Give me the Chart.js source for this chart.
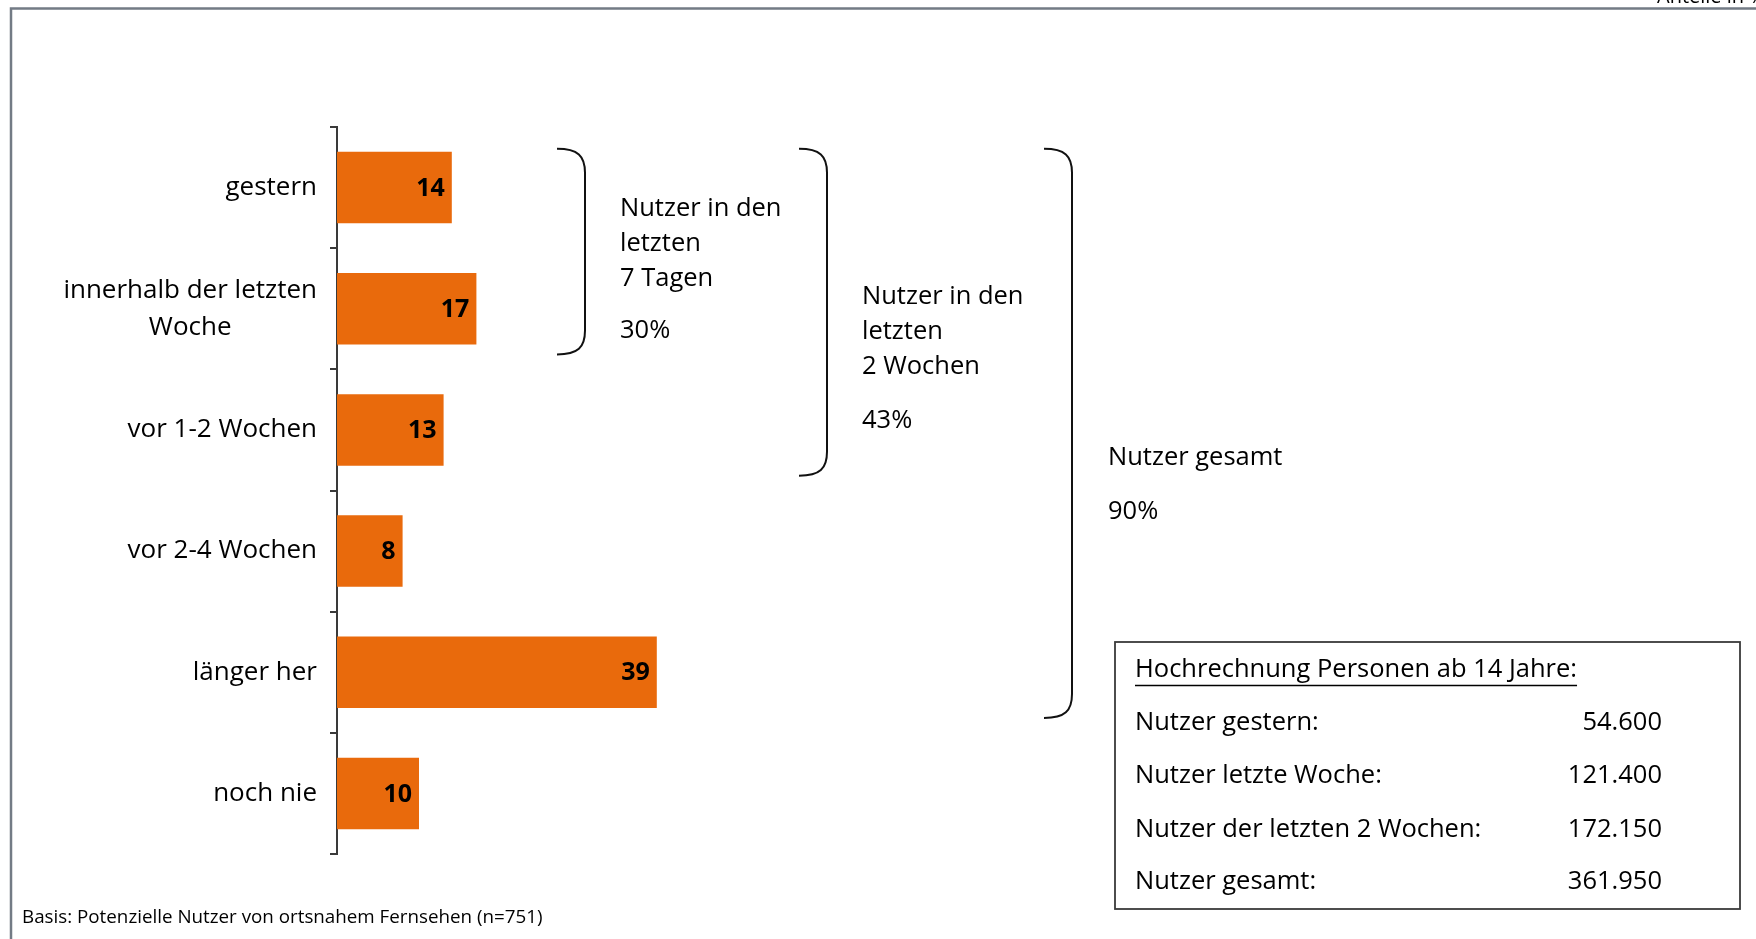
<!DOCTYPE html>
<html>
<head>
<meta charset="utf-8">
<script src="https://cdn.jsdelivr.net/npm/chart.js@4.4.1/dist/chart.umd.min.js"></script>
<style>
  html, body { margin: 0; padding: 0; background: #ffffff; overflow: hidden; }
  #wrap { position: relative; width: 1756px; height: 939px; }
  canvas { display: block; }
</style>
</head>
<body>
<div id="wrap"><canvas id="c" width="1756" height="939"></canvas></div>
<script>
// ---------- data ----------
const categories = ['gestern', ['innerhalb der letzten', 'Woche'], 'vor 1-2 Wochen', 'vor 2-4 Wochen', 'länger her', 'noch nie'];
const values = [14, 17, 13, 8, 39, 10];
const groupTexts = [
  ['Nutzer in den', 'letzten', '7 Tagen'],
  ['Nutzer in den', 'letzten', '2 Wochen'],
  ['Nutzer gesamt']
];
const groupPercents = ['30%', '43%', '90%'];
const groupLastIndex = [1, 2, 4];
const boxTitle = 'Hochrechnung Personen ab 14 Jahre:';
const boxRowLabels = ['Nutzer gestern:', 'Nutzer letzte Woche:', 'Nutzer der letzten 2 Wochen:', 'Nutzer gesamt:'];
const boxRowValues = ['54.600', '121.400', '172.150', '361.950'];
const footnote = 'Basis: Potenzielle Nutzer von ortsnahem Fernsehen (n=751)';
const cornerNote = 'Anteile in %';

const FONT = '"Open Sans", Lato, sans-serif';
const TICK_SIZE = 26;
const TICK_LINE = 37;

const decorPlugin = {
  id: 'decor',
  beforeDraw(chart) {
    const ctx = chart.ctx;
    ctx.save();
    ctx.strokeStyle = '#737b85';
    ctx.lineWidth = 2.5;
    ctx.beginPath();
    ctx.moveTo(11, 939);
    ctx.lineTo(11, 8.5);
    ctx.lineTo(1756, 8.5);
    ctx.stroke();
    ctx.fillStyle = '#000';
    ctx.font = '20px ' + FONT;
    ctx.textAlign = 'left';
    ctx.textBaseline = 'alphabetic';
    ctx.fillText(cornerNote, 1657, 3);
    ctx.restore();
  },
  afterDraw(chart) {
    // category labels: block right-aligned to the axis, lines centred within the block
    const ctx = chart.ctx;
    const ys = chart.scales.y;
    ctx.save();
    ctx.fillStyle = '#000';
    ctx.font = TICK_SIZE + 'px ' + FONT;
    ctx.textBaseline = 'middle';
    ctx.textAlign = 'center';
    const rightEdge = ys.right - 7 - 13;
    categories.forEach((lab, i) => {
      const lines = Array.isArray(lab) ? lab : [lab];
      const bw = Math.max(...lines.map(l => ctx.measureText(l).width));
      const cx = rightEdge - bw / 2;
      const cy = ys.getPixelForTick(i);
      const y0 = cy - (lines.length - 1) * TICK_LINE / 2;
      lines.forEach((l, k) => ctx.fillText(l, cx, y0 + k * TICK_LINE));
    });
    ctx.restore();
  },
  afterDatasetsDraw(chart) {
    const ctx = chart.ctx;
    const meta = chart.getDatasetMeta(0);
    ctx.save();
    // value labels
    ctx.fillStyle = '#000';
    ctx.font = 'bold 25px ' + FONT;
    ctx.textAlign = 'right';
    ctx.textBaseline = 'middle';
    meta.data.forEach((bar, i) => {
      ctx.fillText(String(values[i]), bar.x - 7, bar.y + 1);
    });

    // brackets
    const half = meta.data[0].height / 2;
    const top = meta.data[0].y - half - 3;
    const bx = [557, 799, 1044];
    const w = 28;
    ctx.strokeStyle = '#111';
    ctx.lineWidth = 2;
    groupLastIndex.forEach((li, g) => {
      const bot = meta.data[li].y + meta.data[li].height / 2 + 10;
      const x0 = bx[g], x1 = bx[g] + w;
      const r = 24;
      ctx.beginPath();
      ctx.moveTo(x0, top);
      ctx.bezierCurveTo(x0 + 0.75 * w, top, x1, top + 0.3 * r, x1, top + r);
      ctx.lineTo(x1, bot - r);
      ctx.bezierCurveTo(x1, bot - 0.3 * r, x0 + 0.75 * w, bot, x0, bot);
      ctx.stroke();
    });

    // bracket texts
    ctx.fillStyle = '#000';
    ctx.font = '25.5px ' + FONT;
    ctx.textAlign = 'left';
    ctx.textBaseline = 'middle';
    const tx = [620, 862, 1108];
    const ty = [209, 297, 458];
    const pctGap = [52, 54, 54];
    groupTexts.forEach((lines, g) => {
      lines.forEach((t, k) => ctx.fillText(t, tx[g], ty[g] + k * 35));
      ctx.fillText(groupPercents[g], tx[g], ty[g] + (lines.length - 1) * 35 + pctGap[g]);
    });

    // projection box
    ctx.strokeStyle = '#3a3a3a';
    ctx.lineWidth = 1.8;
    ctx.strokeRect(1115, 642, 625, 267);
    ctx.fillStyle = '#000';
    ctx.font = '25.5px ' + FONT;
    ctx.textAlign = 'left';
    ctx.textBaseline = 'middle';
    ctx.fillText(boxTitle, 1135, 670);
    const tw = ctx.measureText(boxTitle).width;
    ctx.lineWidth = 1.5;
    ctx.strokeStyle = '#000';
    ctx.beginPath();
    ctx.moveTo(1135, 685.5);
    ctx.lineTo(1135 + tw, 685.5);
    ctx.stroke();
    const rowY = [723, 776, 830, 882];
    boxRowLabels.forEach((t, k) => {
      ctx.textAlign = 'left';
      ctx.fillText(t, 1135, rowY[k]);
      ctx.textAlign = 'right';
      ctx.fillText(boxRowValues[k], 1662, rowY[k]);
    });

    // footnote
    ctx.textAlign = 'left';
    ctx.font = '18.8px ' + FONT;
    ctx.fillText(footnote, 22, 918);
    ctx.restore();
  }
};

new Chart(document.getElementById('c'), {
  type: 'bar',
  data: {
    labels: categories,
    datasets: [{
      data: values,
      backgroundColor: '#E96A0C',
      borderWidth: 0,
      barPercentage: 0.59,
      categoryPercentage: 1.0
    }]
  },
  options: {
    indexAxis: 'y',
    responsive: false,
    animation: false,
    events: [],
    layout: { padding: { top: 127, bottom: 85, left: 0, right: 599 } },
    plugins: { legend: { display: false }, tooltip: { enabled: false }, title: { display: false } },
    scales: {
      x: { display: false, min: 0, max: 100 },
      y: {
        afterFit(scale) { scale.width = 337; },
        border: { display: true, color: '#3a3a3a', width: 2 },
        grid: { offset: true, drawOnChartArea: false, drawTicks: true, tickLength: 7, color: '#3a3a3a', lineWidth: 2 },
        ticks: { color: 'rgba(0,0,0,0)', padding: 13, font: { family: FONT, size: TICK_SIZE, lineHeight: 1.42 } }
      }
    }
  },
  plugins: [decorPlugin]
});
</script>
</body>
</html>
